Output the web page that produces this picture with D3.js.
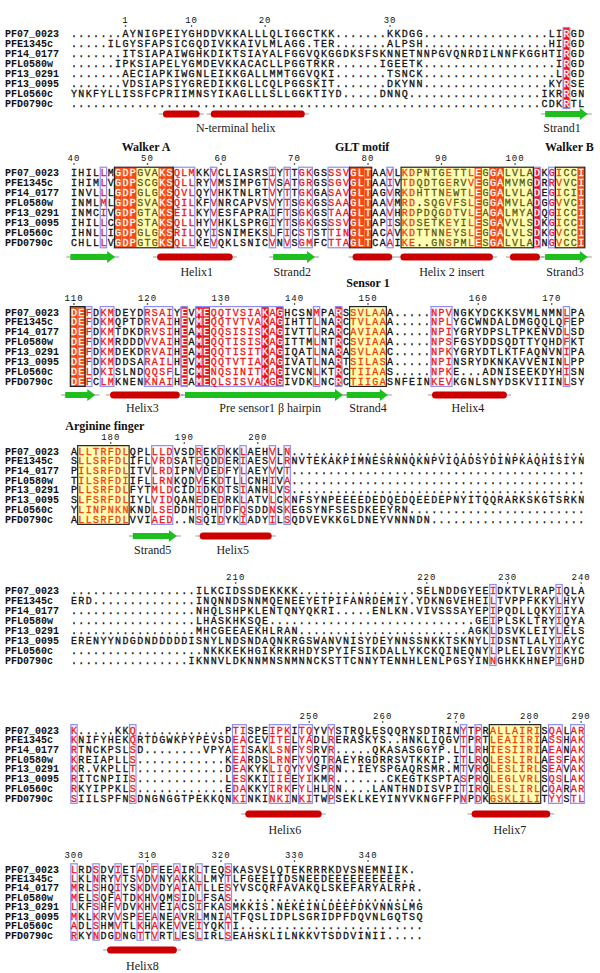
<!DOCTYPE html>
<html><head><meta charset="utf-8">
<script src="https://cdn.jsdelivr.net/npm/d3@7/dist/d3.min.js"></script>
<style>
body{margin:0;background:#fff;}
svg{display:block;}
</style></head><body>
<svg id="chart" width="600" height="973"></svg>
<script>
// sequence names (rows)
const names = ["PF07_0023","PFE1345c","PF14_0177","PFL0580w","PF13_0291","PF13_0095","PFL0560c","PFD0790c"];

// alignment blocks, one string per sequence
const seq1 = [
  "......." + "AYNIGPEIYGHDDVKKALLLQLI" + "GGCTKK" + "......." + "KKDGG" + ".........." + "......." + "LIRGD",
  "....." + "ILGYSFAPSICGQDIVKKAIVLMLA" + "GG.TER" + "......." + "ALPSH" + ".........." + "......." + "HIRGD",
  "......." + "ITSIAPAIWGHKDIKTSIAYALF" + "GGVQKGGDKSFSKNNETNNPGVQNRDILNNFKGGHTIRGD",
  "......" + "IPKSIAPELYGMDEVKKACACLLP" + "GGTRKR" + "......" + "IGEETK" + ".........." + "........" + "IRGD",
  "......." + "AECIAPKIWGNLEIKKGALLMMT" + "GGVQKI" + "......." + "TSNCK" + ".........." + "........" + "LRGD",
  "......." + "VDSIAPSIYGREDIKKGLLCQLP" + "GGSKIT" + "......." + "DKYNN" + ".........." + "......." + "KYRSE",
  "YNKFYLLISSFCPRIIMNSYIKAGLLLSLL" + "GGKTIYD" + "....." + "DNNQ" + ".........." + "........" + "IKRRGN",
  ".........." + ".........." + ".........." + ".........." + ".........." + ".........." + "...." + "CDKRTL"
];
const seq2 = [
  "IHILLMGDPGVAKSQLMKKVCLIASRSIYT" + "TGKGSSSVGLTAAVLKDPNTGETTLEGGALVLADKGICCI",
  "IHIMLVGDPSCGKSQLLRYVMSIMPGTVSA" + "TGRGSSGVGLTAAIVTDQDTGERVVEGGAMVMGDRRVVCI",
  "INVLLLGDPGLGKSQVLQYVHKTNLRTVYT" + "TGKGASAVGLTAGVRKDHTTNEWTLEGGALVLADEGICII",
  "INMLMLGDPSVAKSQILKFVNRCAPVSVYT" + "SGKGSSAAGLTAAVMRD.SQGVFSLEGGAMVLADGGVVCI",
  "INMCIVGDPGTAKSEILKYVESFAPRAIFT" + "SGKGSTAAGLTAAVHRDPDQGDTVLEAGALMYADQGICCI",
  "IHILLCGDPSTAKSQLLHYVHKLSPRGIYT" + "SGKGSSSVGLTAPISKDSETKEYILESGAVVLSDKGICCI",
  "IHNLLIGDPGLGKSRILQYISNIMEKSLFI" + "CSTSTTINGLTACAVKDTTNNEYSLEGGALVLSDKGVCCI",
  "CHLLLVGDPGTGKSQLLKEVQKLSNICVNV" + "SGMFCTTAGLTCAAIKE..GNSPMLESGALVLADNGVCCI"
];
const seq3 = [
  "DEFDKMDEYDRSAIYEVMEQQTVSIAKAGH" + "CSNMPARSSVLAAA.....NPVNGKYDCKKSVMLNMNLPA",
  "DEFDKMQPTDRVAIHEVMEQQTVTVAKAGI" + "HTTLNARCTVLAAA.....NPLYGCWNDALDMGQQLQFEP",
  "DEFDKMTDKDRVSIHEAMEQQSISISKAGI" + "VTTLRARCAVIAAA.....NPIYGRYDPSLTPKENVDLSD",
  "DEFDKMRDDDVVAIHEAMEQQTISISKAGI" + "TTMLNTRCSVIAAA.....NPSFGSYDDSQDTTYQHDFKT",
  "DEFDKMDEKDRVAIHEAMEQQTISITKAGI" + "QATLNARASVLAAC.....NPKYGRYDTLKTFAQNVNIPA",
  "DEFDKMDDSARAILHEVMEQQTVTIAKAGI" + "VATLNARTSILASA.....NPINSRYDKNKAVVENINLPP",
  "DELDKISLNDQQSFLECMENQSINITKAGI" + "VCNLKTRCTIIAAS.....NPKE...ADNISEEKDYHISN",
  "DEFCLMKNENKNAIHEAMEQLSISVAKGGI" + "VDKLNCRCTIIGASNFEINKEVKGNLSNYDSKVIIINLSY"
];
const seq4 = [
  "ALLTRFDLQPLLLDVSDREKDKKLAEHVLN" + "........................................",
  "SLLSRFDLIFLVRDSATEQDDERIAESVLR" + "NVTEKAKPIMNESRNNQKNPVIQADSYDINPKAQHISIYN",
  "PILSRFDLITVLRDIPNVDEDFYLAEYVVT" + "........................................",
  "TILSRFDIIFLLRNKQDVEKDTLLCNHIVA" + "........................................",
  "PLLSRFDLFYTMLDCIDIDKDTSIANHLVS" + "........................................",
  "SLFSRFDLIYLVIDQANEDEDRKLATVLCK" + "NFSYNPEEEEDEDQEDQEEDEPNYITQQRARKSKGTSRKN",
  "YLINPNKNKNDLSEDDHTQHTDFQSDDNSK" + "EGSYNFSESDKEEYRN" + "........................",
  "ALLSRFDLVVIAED..NSQIDYKIADYILS" + "QDVEVKKGLDNEYVNNNDN" + "....................."
];
const seq5 = [
  "................." + "ILKCIDSSDEKKKK" + "................" + "SELNDDGYEE" + "I" + "DKTVLRAP" + "I" + "QLA",
  "ERD" + ".............." + "INQNNDSNNMQENEEYETPIFANRDEMIY" + "." + "YDKNGVEHEI" + "L" + "TVPPFKKY" + "L" + "HYV",
  "................." + "NHQLSHPKLENTQNYQKRI" + "....." + "ENLKN" + "." + "VIVSSSAYEP" + "I" + "PQDLLQKY" + "I" + "IYA",
  "................." + "LHASKHKSQE" + "............................" + "GE" + "I" + "PLSKLTRY" + "I" + "QYA",
  "................." + "MHCGEEAEKHLRAN" + "......................." + "AGK" + "L" + "DSVKLEIY" + "L" + "ELS",
  "ERENYYNDGDNDDDDDISNYLNDSNDAQNKRGSWANVNISYDEYNNSSNKKTSKNYL" + "I" + "DSNTLALY" + "I" + "AYC",
  ".................." + "NKKKEKHGIKRKRHDYSPYIFSIKDALLYKCKQINEQNY" + "L" + "PLELIGVY" + "I" + "KYC",
  "................" + "IKNNVLDKNNMNSNMNNCKSTTCNNYTENNHLENLPGSYIN" + "N" + "GHKKHNEP" + "I" + "GHD"
];
const seq6 = [
  "K.....KKQ" + "............" + "PTISPEIPKI" + "TQYVYSTRQLESQQRYSDTRINYTPRALLAIRISQALAR",
  "KNIFYHEKQRTDGWKPYPEVSDEACEVITE" + "LYADLRERASKYS..HNKLIQGVTPRTLEAIIRIASSHAK",
  "RTNCKPSLSD" + "........" + "VPYAEISAKLSN" + "FYSRVR.....QKASASGGYP.LTLRHIESIIRIAEANAK",
  "KREIAPLLS" + "............" + "KEARDSLRN" + "FYVQTRAEYRGDRRSVTKKIP.ITLRQLESLIRLAESFAK",
  "KR.VKPLLT" + "............" + "DEAKYKLIQ" + "YYVSPRN..IEYSPGAQRSMR.MTVRQLESLIRLSEAVAK",
  "RITCNPIIS" + "............" + "LESKKIIIE" + "EYIKMR.......CKEGTKSPTASPRQLEGLVRLSQSLAK",
  "RKYIPPKLS" + "............" + "EDAKKYIRK" + "FYLHLRN....LANTHNDISVPITIRQLESLIRLCQARAR",
  "SIILSPFNSDNGNGGTPEKKQNKINKINKI" + "NKITWPSEKLKEYINYVKNGFFPNPDKGSKLILITYYSTL"
];
const seq7 = [
  "LRDSDVIETADFEEAIRLTEQSKASVSLQTEKRRRKDVSNEMNIIK.",
  "LKLNRYVTSVDVNYAKKLLMYTLFGEEIIDSNEEDEEEEEEEEEE..",
  "MRLSHQIYSKDVDYAIATLLESYVSCQRFAVAKQLSKEFARYALRPR.",
  "MELSQFATDKHVQMSIDLFSAS..........................",
  "LKFSHFVDVKHVEIACSIFKASMKKIS.NEKEINLDEEFDKVNNSLMG",
  "MKLKRVVSPEEANEAVRLMNIATFQSLIDPLSGRIDPFDQVNLGQTSQ",
  "ADLSHMVTLKHAKEVVEIYQKTI.........................",
  "RKYNDGDNGTTVRTLESLIRLSEAHSKLILNKKVTSDDVINII....."
];

// column classes: . plain, r similar (red letters, blue frame), R identical (red box)
const style1 = ".........." + ".........." + ".........." + ".........." + ".........." + ".........." + "......." + "R" + "..";
const style2 = "....r.RRR...RRrrr..r.......r.r.rr..rrrRRR..r.rr....r..rR.RR....R.rr..R";
const style3 = "RRr.rr....rrrr.R.RRrrrrrrrRrR....r..R.rrrrr......rrr...............r..";
const style4 = ".rrrrrrr...rrr...r..r..r...r.r" + "........................................";
const style5 = ".........." + ".........." + ".........." + ".........." + ".........." + "......." + "r" + "........" + "r" + "...";
const style6 = "r.......r.............rr...rrr.rr..r.................r.r.rrrrrrr.rr.rr";
const style7 = "r..r..r..r.r..r..r...r.........................."; 

// motif boxes [first col, last col]
const boxes1 = [];
const boxes2 = [[6, 13], [38, 40], [45, 62], [66, 69]];
const boxes3 = [[0, 1], [38, 42]];
const boxes4 = [[1, 7]];
const boxes5 = [];
const boxes6 = [[57, 63]];
const boxes7 = [];

// ruler labels [residue number, column]
const ticks1 = [[1, 7], [10, 16], [20, 26], [30, 43]];
const ticks2 = [[40, 0], [50, 10], [60, 20], [70, 30], [80, 40], [90, 50], [100, 60]];
const ticks3 = [[110, 0], [120, 10], [130, 20], [140, 30], [150, 40], [160, 55], [170, 65]];
const ticks4 = [[180, 5], [190, 15], [200, 25]];
const ticks5 = [[210, 22], [220, 48], [230, 59], [240, 69]];
const ticks6 = [[250, 32], [260, 42], [270, 52], [280, 62], [290, 69]];
const ticks7 = [[300, 0], [310, 10], [320, 20], [330, 30], [340, 40]];

// secondary structure [type, from col, to col]
const ss1 = [["helix", 12.1, 17.1], ["helix", 18.6, 31.4], ["strand", 64.1, 69.9]];
const ss2 = [["strand", -0.5, 5.6], ["helix", 11.3, 21.6], ["strand", 27.1, 32.8], ["helix", 37.9, 43.3],
             ["helix", 44.4, 57.0], ["helix", 59.3, 63.4], ["strand", 64.1, 69.9]];
const ss3 = [["strand", -1.2, 2.9], ["helix", 4.9, 14.4], ["strand", 15.1, 36.6], ["strand", 37.1, 42.7], ["helix", 48.7, 58.9]];
const ss4 = [["strand", 8.0, 14.0], ["helix", 17.1, 26.9]];
const ss5 = [];
const ss6 = [["helix", 23.3, 33.7], ["helix", 54.1, 64.8]];
const ss7 = [["helix", 4.5, 14.0]];

// element labels [text, centre col]
const lab1 = [["N-terminal helix", 22.0], ["Strand1", 66.4]];
const lab2 = [["Helix1", 16.7], ["Strand2", 29.7], ["Helix 2 insert", 51.4], ["Strand3", 66.8]];
const lab3 = [["Helix3", 9.3], ["Pre sensor1 \u03b2 hairpin", 26.7], ["Strand4", 40.0], ["Helix4", 53.6]];
const lab4 = [["Strand5", 10.7], ["Helix5", 21.6]];
const lab5 = [];
const lab6 = [["Helix6", 28.7], ["Helix7", 59.3]];
const lab7 = [["Helix8", 9.3]];

// motif headers [text, centre col]
const head1 = [];
const head2 = [["Walker A", 9.8], ["GLT motif", 39.2], ["Walker B", 67.4]];
const head3 = [["Sensor 1", 40.0]];
const head4 = [["Arginine finger", 4.2]];
const head5 = [], head6 = [], head7 = [];

// vertical layout of each block (pixels)
const layout = [
  {head: 0,   ruler: 20,  r0: 33,    r7: 103,   ss: 114, lab: 128},
  {head: 147, ruler: 158, r0: 172.7, r7: 242.3, ss: 257, lab: 272},
  {head: 283, ruler: 298, r0: 312,   r7: 381,   ss: 395, lab: 408},
  {head: 426, ruler: 437, r0: 451,   r7: 519,   ss: 536, lab: 550},
  {head: 0,   ruler: 577, r0: 590,   r7: 660,   ss: 0,   lab: 0},
  {head: 0,   ruler: 716, r0: 730,   r7: 798,   ss: 814, lab: 830},
  {head: 0,   ruler: 855, r0: 869,   r7: 935,   ss: 950, lab: 966}
];

const blocks = [
  {seq: seq1, style: style1, boxes: boxes1, ticks: ticks1, ss: ss1, lab: lab1, head: head1},
  {seq: seq2, style: style2, boxes: boxes2, ticks: ticks2, ss: ss2, lab: lab2, head: head2},
  {seq: seq3, style: style3, boxes: boxes3, ticks: ticks3, ss: ss3, lab: lab3, head: head3},
  {seq: seq4, style: style4, boxes: boxes4, ticks: ticks4, ss: ss4, lab: lab4, head: head4},
  {seq: seq5, style: style5, boxes: boxes5, ticks: ticks5, ss: ss5, lab: lab5, head: head5},
  {seq: seq6, style: style6, boxes: boxes6, ticks: ticks6, ss: ss6, lab: lab6, head: head6},
  {seq: seq7, style: style7, boxes: boxes7, ticks: ticks7, ss: ss7, lab: lab7, head: head7}
];

const CW = 7.35;
const x = d3.scaleLinear().domain([0, 69]).range([74, 74 + 69 * CW]);
const mono = "'Liberation Mono', 'DejaVu Sans Mono', monospace";
const serif = "'Liberation Serif', 'DejaVu Serif', serif";
const RED = "#e8141c", ORANGE = "#f24a12", REDTXT = "#f01414", BOXTXT = "#f0400a",
      FRAME = "#8e8ef2", YELLOW = "#ffffb4", OLIVE = "#5c5c10";

const svg = d3.select("#chart");
svg.append("rect").attr("width", 600).attr("height", 973).attr("fill", "#fff");

blocks.forEach((b, bi) => {
  const L = layout[bi];
  const g = svg.append("g").attr("class", "block" + (bi + 1));
  const y = d3.scaleLinear().domain([0, 7]).range([L.r0, L.r7]);
  const pitch = (L.r7 - L.r0) / 7;
  const top = L.r0 - pitch / 2, bot = L.r7 + pitch / 2;
  const ncol = b.style.length;
  const inBox = c => b.boxes.some(([s, e]) => c >= s && c <= e);

  // motif box fill
  g.selectAll("rect.box").data(b.boxes).join("rect")
    .attr("x", d => x(d[0]) - CW / 2).attr("width", d => (d[1] - d[0] + 1) * CW)
    .attr("y", top).attr("height", bot - top).attr("fill", YELLOW);

  // identical columns
  const ident = d3.range(ncol).filter(c => b.style[c] === "R");
  g.selectAll("rect.id").data(ident).join("rect")
    .attr("x", c => x(c) - CW / 2).attr("width", CW)
    .attr("y", top).attr("height", bot - top)
    .attr("fill", c => inBox(c) ? ORANGE : RED);

  // blue frames around runs of conserved columns outside motif boxes
  const runs = [];
  let cur = null;
  d3.range(ncol).forEach(c => {
    const on = b.style[c] !== "." && !inBox(c);
    if (on) { if (cur) cur[1] = c; else { cur = [c, c]; runs.push(cur); } }
    else cur = null;
  });
  g.selectAll("rect.frame").data(runs).join("rect")
    .attr("x", d => x(d[0]) - CW / 2 + 0.5).attr("width", d => (d[1] - d[0] + 1) * CW - 1)
    .attr("y", top - 0.5).attr("height", bot - top + 1)
    .attr("fill", "none").attr("stroke", FRAME).attr("stroke-width", 1.2);

  // motif box border
  g.selectAll("rect.boxline").data(b.boxes).join("rect")
    .attr("x", d => x(d[0]) - CW / 2).attr("width", d => (d[1] - d[0] + 1) * CW)
    .attr("y", top - 0.5).attr("height", bot - top + 1)
    .attr("fill", "none").attr("stroke", "#222").attr("stroke-width", 1.2);

  // names
  g.selectAll("text.name").data(names).join("text")
    .attr("x", 5).attr("y", (d, i) => y(i)).attr("dy", "0.35em")
    .attr("font-family", mono).attr("font-size", 10).attr("font-weight", "bold")
    .attr("fill", "#111").text(d => d);

  // residues
  const cells = [];
  b.seq.forEach((s, ri) => { for (let c = 0; c < s.length; c++) cells.push({ch: s[c], c, ri}); });
  const colour = d => {
    const s = b.style[d.c];
    if (d.ch === ".") return "#111";
    if (s === "R") return "#fff";
    if (s === "r") return inBox(d.c) ? BOXTXT : REDTXT;
    return inBox(d.c) ? OLIVE : "#111";
  };
  g.selectAll("text.res").data(cells).join("text")
    .attr("x", d => x(d.c)).attr("y", d => y(d.ri)).attr("dy", "0.35em")
    .attr("text-anchor", "middle")
    .attr("font-family", mono).attr("font-size", 10)
    .attr("fill", colour).attr("stroke", colour).attr("stroke-width", 0.3)
    .text(d => d.ch);

  // ruler
  const rt = g.selectAll("g.tick").data(b.ticks).join("g")
    .attr("transform", d => `translate(${x(d[1])},${L.ruler})`);
  rt.append("text").attr("text-anchor", "middle").attr("dy", "0.35em")
    .attr("font-family", mono).attr("font-size", 9).attr("letter-spacing", 1)
    .attr("fill", "#111").text(d => d[0]);
  rt.append("circle").attr("cx", 0).attr("cy", 6).attr("r", 0.8).attr("fill", "#111");

  // secondary structure
  const sg = g.selectAll("g.ss").data(b.ss).join("g");
  sg.append("line")
    .attr("x1", d => x(d[1]) - 4).attr("x2", d => x(d[2]) + 4)
    .attr("y1", L.ss).attr("y2", L.ss).attr("stroke", "#999").attr("stroke-width", 1);
  sg.filter(d => d[0] === "helix").append("rect")
    .attr("x", d => x(d[1])).attr("width", d => x(d[2]) - x(d[1]))
    .attr("y", L.ss - 3.5).attr("height", 7).attr("rx", 3.5)
    .attr("fill", "#cc0000");
  sg.filter(d => d[0] === "strand").append("path")
    .attr("d", d => {
      const a = x(d[1]), e = x(d[2]), h = Math.min(8, (e - a) * 0.4), yy = L.ss;
      return `M${a},${yy - 3}L${e - h},${yy - 3}L${e - h},${yy - 6}L${e},${yy}L${e - h},${yy + 6}L${e - h},${yy + 3}L${a},${yy + 3}Z`;
    })
    .attr("fill", "#1dbf1d");

  g.selectAll("text.lab").data(b.lab).join("text")
    .attr("x", d => x(d[1])).attr("y", L.lab).attr("dy", "0.35em")
    .attr("text-anchor", "middle").attr("font-family", serif).attr("font-size", 12)
    .attr("fill", "#222").text(d => d[0]);

  g.selectAll("text.head").data(b.head).join("text")
    .attr("x", d => x(d[1])).attr("y", L.head).attr("dy", "0.35em")
    .attr("text-anchor", "middle").attr("font-family", serif).attr("font-size", 12)
    .attr("font-weight", "bold").attr("fill", "#111").text(d => d[0]);
});
</script>
</body></html>
